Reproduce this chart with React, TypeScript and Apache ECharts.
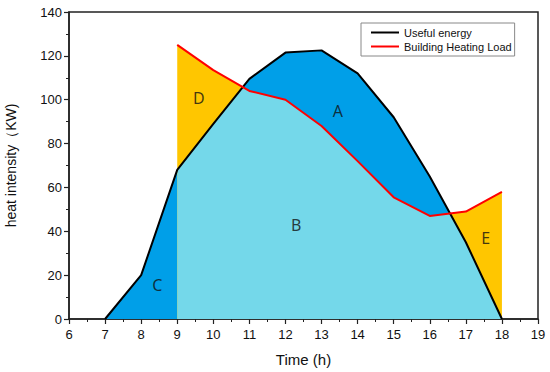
import React, { useEffect, useRef } from "react";
import * as echarts from "echarts";

const hours = [7, 8, 9, 10, 11, 12, 13, 14, 15, 16, 17, 18];
const usefulEnergy = [0, 20, 68, 89, 109.5, 121.5, 122.5, 112, 92, 65, 35, 0];
const loadHours = [9, 10, 11, 12, 13, 14, 15, 16, 17, 18];
const heatingLoad = [125, 113.5, 104, 100, 88, 72, 55.5, 47, 49, 58];
const regionNames = ["A", "B", "C", "D", "E"];
const regionX = [13.45, 12.3, 8.45, 9.6, 17.55];
const regionY = [95, 43, 15.5, 101, 37];
const xTicks = { min: 6, max: 19, interval: 1 };
const yTicks = { min: 0, max: 140, interval: 20 };

const FONT = "'Liberation Sans', Arial, sans-serif";

export default function App() {
  const ref = useRef<HTMLDivElement>(null);
  useEffect(() => {
    if (!ref.current) return;
    const chart = echarts.init(ref.current, null, { renderer: "svg" });

    const energyPts = hours.map((h, i) => [h, usefulEnergy[i]]);
    const loadPts = loadHours.map((h, i) => [h, heatingLoad[i]]);
    const energyAt = (h: number) => usefulEnergy[hours.indexOf(h)];

    const minPts: number[][] = [];
    for (let i = 0; i < loadHours.length; i++) {
      const h1 = loadHours[i];
      const e1 = energyAt(h1);
      const l1 = heatingLoad[i];
      minPts.push([h1, Math.min(e1, l1)]);
      if (i < loadHours.length - 1) {
        const h2 = loadHours[i + 1];
        const e2 = energyAt(h2);
        const l2 = heatingLoad[i + 1];
        const d1 = e1 - l1;
        const d2 = e2 - l2;
        if (d1 * d2 < 0) {
          const t = d1 / (d1 - d2);
          minPts.push([h1 + t * (h2 - h1), e1 + t * (e2 - e1)]);
        }
      }
    }
    const first = loadHours[0];
    const last = loadHours[loadHours.length - 1];
    const polygons = [
      { pts: energyPts, color: "#009fe8" },
      { pts: [[first, 0], ...loadPts, [last, 0]], color: "#ffc600" },
      { pts: [[first, 0], ...minPts, [last, 0]], color: "#74d8ea" },
    ];

    const option: any = {
      animation: false,
      textStyle: { fontFamily: FONT },
      grid: {
        left: 69,
        right: 12,
        top: 12,
        bottom: 53,
        outerBoundsMode: "none",
        containLabel: false,
        show: true,
        borderColor: "#222",
        borderWidth: 1.5,
        backgroundColor: "transparent",
      },
      legend: {
        left: 361,
        top: 23,
        orient: "vertical",
        itemGap: 3,
        itemWidth: 28,
        itemHeight: 2,
        padding: [4, 3, 4, 10],
        borderColor: "#888",
        borderWidth: 1,
        textStyle: { fontSize: 11, color: "#111", fontFamily: FONT },
        data: [
          { name: "Useful energy", icon: "rect", itemStyle: { color: "#000" } },
          { name: "Building Heating Load", icon: "rect", itemStyle: { color: "#ff0000" } },
        ],
      },
      xAxis: {
        type: "value",
        min: xTicks.min,
        max: xTicks.max,
        interval: xTicks.interval,
        name: "Time (h)",
        nameLocation: "middle",
        nameGap: 33,
        nameTextStyle: { fontSize: 15, color: "#111", fontFamily: FONT },
        axisLine: { show: true, onZero: false, lineStyle: { color: "#222", width: 1.5 } },
        axisTick: { show: true, inside: false, length: 5, lineStyle: { color: "#222", width: 1.2 } },
        minorTick: { show: true, splitNumber: 2, length: 3, lineStyle: { color: "#222", width: 1 } },
        axisLabel: { fontSize: 13, color: "#111", margin: 9, fontFamily: FONT },
        splitLine: { show: false },
      },
      yAxis: {
        type: "value",
        min: yTicks.min,
        max: yTicks.max,
        interval: yTicks.interval,
        name: "heat intensity（KW)",
        nameLocation: "middle",
        nameGap: 51,
        nameTextStyle: { fontSize: 14, color: "#111", fontFamily: FONT },
        axisLine: { show: true, onZero: false, lineStyle: { color: "#222", width: 1.5 } },
        axisTick: { show: true, inside: false, length: 5, lineStyle: { color: "#222", width: 1.2 } },
        minorTick: { show: true, splitNumber: 2, length: 3, lineStyle: { color: "#222", width: 1 } },
        axisLabel: { fontSize: 13, color: "#111", margin: 7, fontFamily: FONT },
        splitLine: { show: false },
      },
      series: [
        {
          type: "custom",
          silent: true,
          z: 1,
          data: polygons.map((p) => p.pts[0]),
          renderItem: (params: any, api: any) => {
            const poly = polygons[params.dataIndex];
            return {
              type: "polygon",
              shape: { points: poly.pts.map((p) => api.coord(p)) },
              style: { fill: poly.color, stroke: "none" },
            };
          },
        },
        {
          name: "Useful energy",
          type: "line",
          z: 3,
          showSymbol: false,
          symbol: "none",
          data: energyPts,
          lineStyle: { color: "#000", width: 2 },
          itemStyle: { color: "#000" },
        },
        {
          name: "Building Heating Load",
          type: "line",
          z: 4,
          showSymbol: false,
          symbol: "none",
          data: loadPts,
          lineStyle: { color: "#ff0000", width: 2 },
          itemStyle: { color: "#ff0000" },
        },
        {
          type: "scatter",
          silent: true,
          z: 5,
          symbolSize: 0,
          data: regionNames.map((n, i) => [regionX[i], regionY[i], n]),
          label: {
            show: true,
            position: "inside",
            formatter: (p: any) => p.data[2],
            fontSize: 16,
            color: "#111",
            fontFamily: "'Noto Sans', 'DejaVu Sans', sans-serif",
          },
        },
      ],
    };
    chart.setOption(option);
    return () => chart.dispose();
  }, []);
  return (
    <div
      ref={ref}
      style={{ position: "fixed", left: 0, top: 0, width: 550, height: 372, background: "#fff" }}
    />
  );
}
